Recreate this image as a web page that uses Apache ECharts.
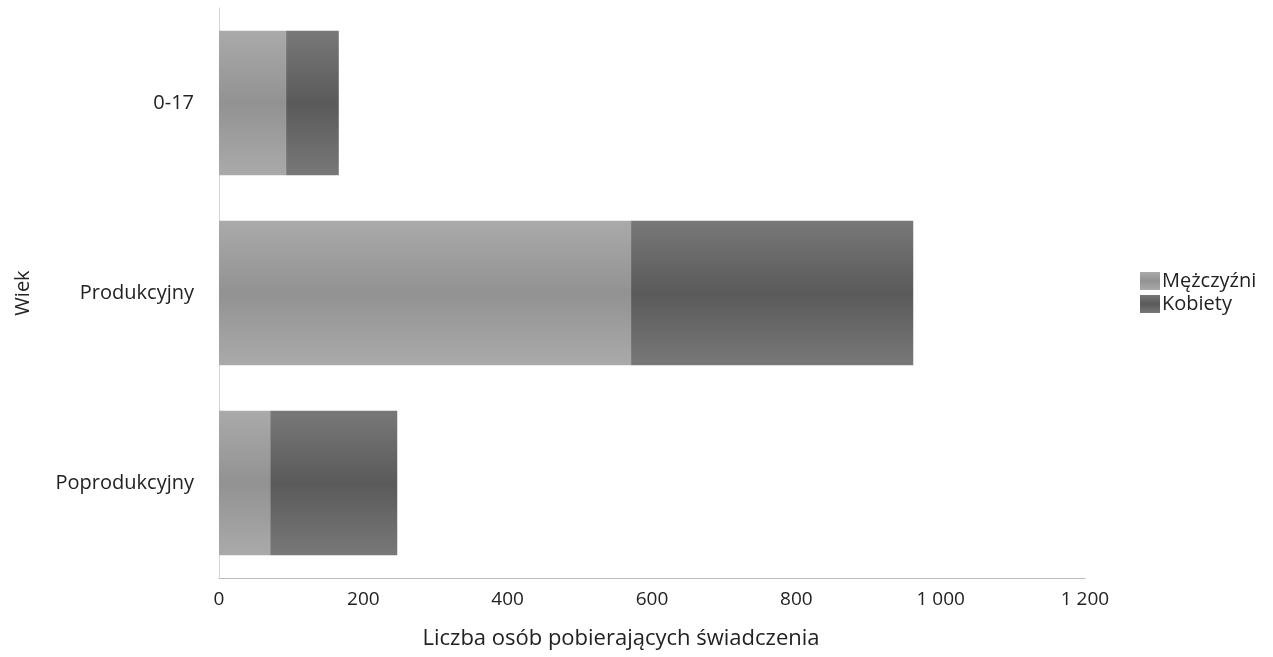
<!DOCTYPE html>
<html><head><meta charset="utf-8">
<script src="https://cdn.jsdelivr.net/npm/echarts@6/dist/echarts.min.js"></script>
<style>html,body{margin:0;padding:0;background:#fff}#c{width:1273px;height:657px}</style>
</head><body><div id="c"></div>
<script>
const categories = ['0-17', 'Produkcyjny', 'Poprodukcyjny'];
const mezczyzni = [93, 571, 71];
const kobiety = [73, 391, 176];
const xTicks = [0, 200, 400, 600, 800, 1000, 1200];

function grad(top, bottom) {
  return new echarts.graphic.LinearGradient(0, 0, 0, 1, [
    {offset: 0, color: top}, {offset: 0.5, color: bottom}, {offset: 1, color: top}
  ]);
}
const chart = echarts.init(document.getElementById('c'));
const font = 'Open Sans';
chart.setOption({
  animation: false,
  textStyle: {fontFamily: font},
  grid: {left: 219, right: 188, top: 8, bottom: 79, containLabel: false},
  legend: {
    orient: 'vertical', left: 1135, top: 266, itemWidth: 20, itemHeight: 18, itemGap: 3,
    icon: 'rect',
    textStyle: {fontSize: 20, lineHeight: 20, color: '#222', fontFamily: font, padding: [0,0,0,-3]},
    data: ['Mężczyźni', 'Kobiety']
  },
  xAxis: {
    type: 'value', min: xTicks[0], max: xTicks[xTicks.length - 1], interval: 200,
    name: 'Liczba osób pobierających świadczenia', nameLocation: 'middle', nameGap: 50,
    nameTextStyle: {fontSize: 22, color: '#222', padding: [0, 62, 0, 0]},
    axisLine: {show: true, lineStyle: {color: '#bbb'}},
    axisTick: {show: false},
    splitLine: {show: false},
    axisLabel: {fontSize: 19, color: '#222', margin: 12,
      formatter: v => String(v).replace(/\B(?=(\d{3})+(?!\d))/g, ' ')}
  },
  yAxis: {
    type: 'category', data: categories, inverse: true,
    name: 'Wiek', nameLocation: 'middle', nameGap: 186, nameRotate: 90,
    nameTextStyle: {fontSize: 20, color: '#222'},
    axisLine: {show: true, lineStyle: {color: '#ccc', type: 'dotted'}},
    axisTick: {show: false},
    axisLabel: {fontSize: 20, color: '#222', margin: 25}
  },
  series: [
    {name: 'Mężczyźni', type: 'bar', stack: 'a', data: mezczyzni, barCategoryGap: '24%',
      itemStyle: {color: grad('#aaaaaa', '#929292')}},
    {name: 'Kobiety', type: 'bar', stack: 'a', data: kobiety,
      itemStyle: {color: grad('#787878', '#5a5a5a')}}
  ]
});
</script></body></html>
